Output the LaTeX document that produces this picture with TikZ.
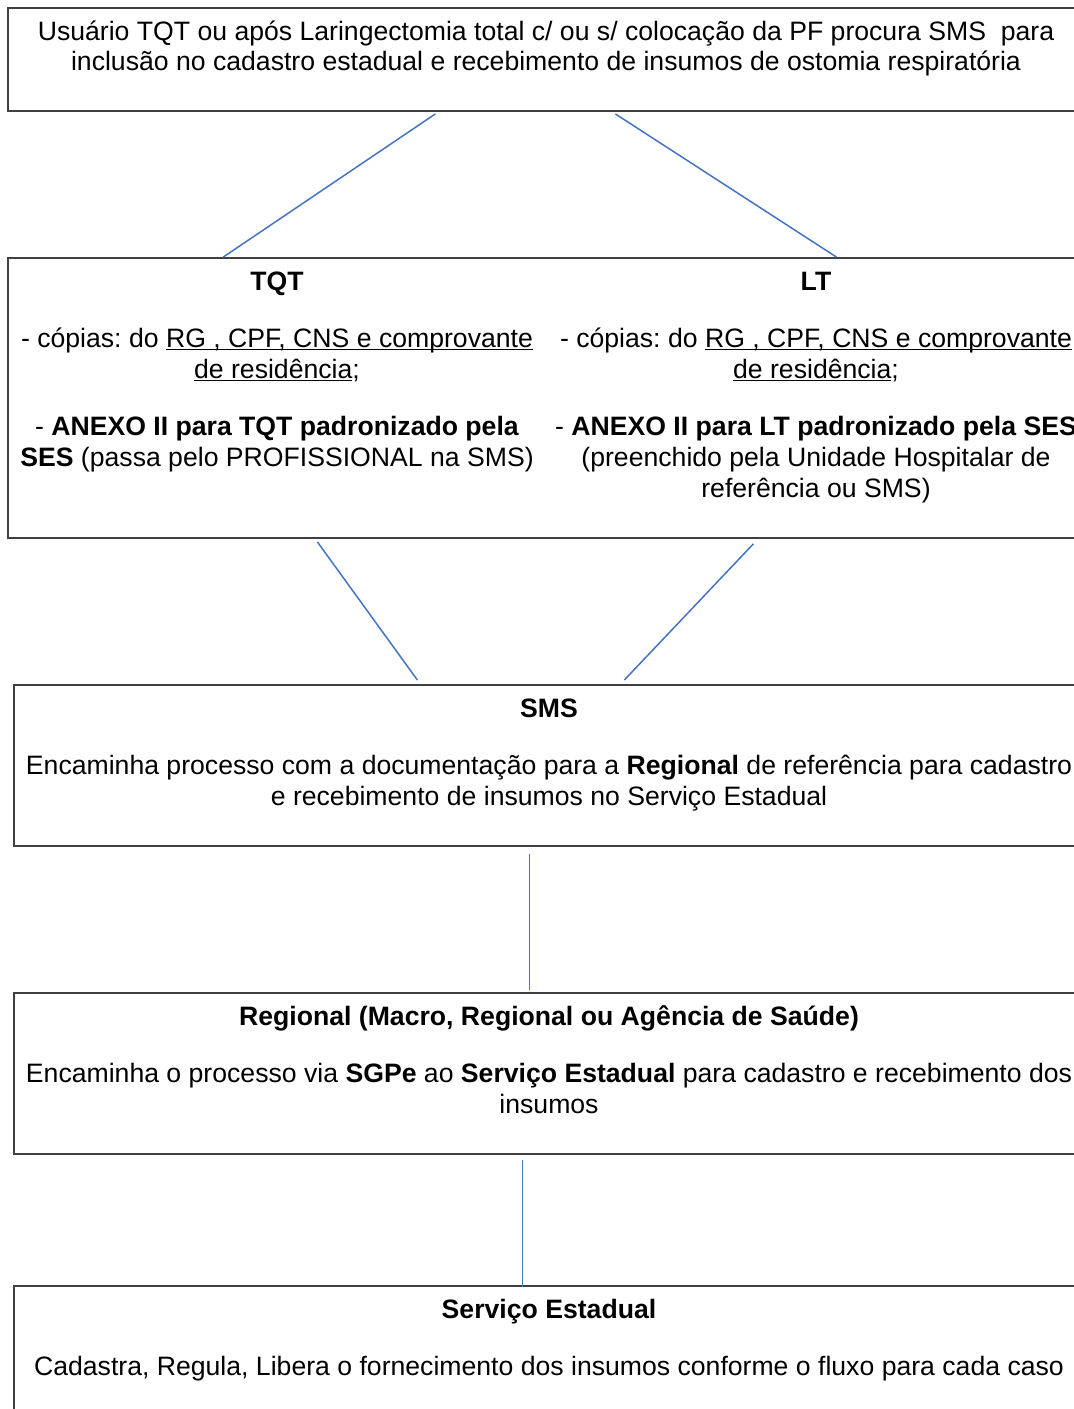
\documentclass[tikz,border=0pt]{standalone}
\usepackage{fontspec}
\setmainfont{Liberation Sans}
\usetikzlibrary{calc}
\frenchspacing
\definecolor{linkblue}{HTML}{4472C4}
\tikzstyle{box}=[rectangle, draw=black!75, line width=1.1pt, anchor=north west, inner sep=0pt]
\tikzstyle{annot}=[align=center, anchor=base, inner sep=0pt, font=\fontsize{15.15pt}{17.6pt}\selectfont]
\tikzstyle{link}=[draw=linkblue, line width=0.85pt]
\newcommand{\undl}[1]{\underline{\smash{#1}}}

\begin{document}
\begin{tikzpicture}[x=0.02cm, y=-0.02cm]
	\useasboundingbox (0,0) rectangle (1074,1409);
	\clip (0,0) rectangle (1074,1409);

	% boxes
	\node[box, minimum width=21.66cm, minimum height=2.06cm] (usr) at (7,7) {};
	\node[box, minimum width=21.66cm, minimum height=5.6cm] (docs) at (7,257) {};
	\node[box, minimum width=21.54cm, minimum height=3.22cm] (sms) at (13,684) {};
	\node[box, minimum width=21.54cm, minimum height=3.22cm] (reg) at (13,992) {};
	\node[box, minimum width=21.54cm, minimum height=3.5cm] (serv) at (13,1285) {};

	% texts (anchored at the baseline of their last line)
	\node[annot] (usrtxt) at (546,71) {Usuário TQT ou após Laringectomia total c/ ou s/ colocação da PF procura SMS\ \ para\\inclusão no cadastro estadual e recebimento de insumos de ostomia respiratória};
	\node[annot] (tqt) at (277,466) {\textbf{TQT}\\[0.52cm]- cópias: do \undl{RG , CPF, CNS e comprovante}\\\undl{de residência};\\[0.52cm]- \textbf{ANEXO II para TQT padronizado pela}\\\textbf{SES} (passa pelo PROFISSIONAL na SMS)};
	\node[annot] (lt) at (816,497) {\textbf{LT}\\[0.52cm]- cópias: do \undl{RG , CPF, CNS e comprovante}\\\undl{de residência};\\[0.52cm]- \textbf{ANEXO II para LT padronizado pela SES}\\(preenchido pela Unidade Hospitalar de\\referência ou SMS)};
	\node[annot] (smstxt) at (549,805) {\textbf{SMS}\\[0.52cm]Encaminha processo com a documentação para a \textbf{Regional} de referência para cadastro\\e recebimento de insumos no Serviço Estadual};
	\node[annot] (regtxt) at (549,1113) {\textbf{Regional (Macro, Regional ou Agência de Saúde)}\\[0.52cm]Encaminha o processo via \textbf{SGPe} ao \textbf{Serviço Estadual} para cadastro e recebimento dos\\insumos};
	\node[annot] (servtxt) at (549,1375) {\textbf{Serviço Estadual}\\[0.52cm]Cadastra, Regula, Libera o fornecimento dos insumos conforme o fluxo para cada caso};

	% connectors
	\draw[link] ($(usr.south)+(-114,2)$) -- ($(docs.north)+(-326,0)$);
	\draw[link] ($(usr.south)+(66,2)$) -- ($(docs.north)+(287,0)$);
	\draw[link] ($(docs.south)+(-232,3)$) -- ($(sms.north)+(-135,-4)$);
	\draw[link] ($(docs.south)+(204,5)$) -- ($(sms.north)+(72,-4)$);
	\draw[link] ($(sms.south)+(-23,7)$) -- ($(reg.north)+(-23,-2)$);
	\draw[link] ($(reg.south)+(-30,5)$) -- ($(serv.north)+(-30,2)$);
\end{tikzpicture}
\end{document}
